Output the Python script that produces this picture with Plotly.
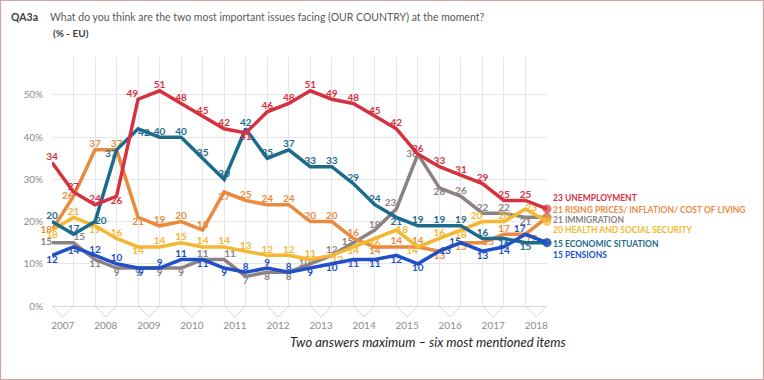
import plotly.graph_objects as go

years = ["2007", "2008", "2009", "2010", "2011", "2012", "2013", "2014", "2015", "2016", "2017", "2018"]

unemployment = [34, 27, 24, 26, 49, 51, 48, 45, 42, 41, 46, 48, 51, 49, 48, 45, 42, 36, 33, 31, 29, 25, 25, 23]
rising_prices = [18, 26, 37, 37, 21, 19, 20, 18, 27, 25, 24, 24, 20, 20, 16, 14, 14, 14, 13, 15, 15, 17, 17, 21]
immigration = [15, 15, 11, 9, 9, 9, 9, 11, 11, 7, 8, 8, 10, 12, 15, 18, 23, 36, 28, 26, 22, 22, 21, 21]
health = [18, 21, 19, 16, 14, 14, 15, 14, 14, 13, 12, 12, 11, 12, 14, 16, 18, 14, 16, 18, 20, 20, 23, 20]
economic = [20, 17, 20, 37, 42, 40, 40, 35, 30, 42, 35, 37, 33, 33, 29, 24, 21, 19, 19, 19, 16, 16, 15, 15]
pensions = [12, 14, 12, 10, 9, 9, 11, 11, 9, 8, 9, 8, 9, 10, 11, 11, 12, 10, 13, 15, 13, 14, 17, 15]

names = {
    "unemployment": "UNEMPLOYMENT",
    "rising_prices": "RISING PRICES/ INFLATION/ COST OF LIVING",
    "immigration": "IMMIGRATION",
    "health": "HEALTH AND SOCIAL SECURITY",
    "economic": "ECONOMIC SITUATION",
    "pensions": "PENSIONS",
}

# ---- styles ----
T, B, L, R = "top center", "bottom center", "middle left", "middle right"
TL, TR, BL, BR = "top left", "top right", "bottom left", "bottom right"

styles = {
    "immigration": dict(color="#8c8284", shift=-3,
        pos=[L, TR, B, B, B, B, B, T, TR, B, B, B, L, T, L, T, TL, L, B, T, T, T, B, T]),
    "rising_prices": dict(color="#ea8a3f", shift=7,
        pos=[L, L, T, T, B, T, T, T, B, T, T, T, T, T, T, B, T, T, B, B, R, T, BR, T]),
    "health": dict(color="#f4b731", shift=-8,
        pos=[B, T, B, T, B, T, T, T, T, T, T, T, T, BR, B, B, R, BL, T, B, TL, T, R, T]),
    "economic": dict(color="#1c6a8c", shift=-1,
        pos=[T, T, R, BL, BR, T, T, T, T, T, T, T, T, T, T, T, B, T, T, T, T, B, B, T]),
    "pensions": dict(color="#2150c6", shift=-12,
        pos=[B, B, T, T, BR, T, T, B, B, T, T, T, B, B, B, B, B, B, R, L, B, B, TL, T]),
    "unemployment": dict(color="#d7303f", shift=11,
        pos=[T, T, T, B, TL, T, T, T, T, B, T, T, T, T, T, T, T, T, T, T, T, T, T, T]),
}

series = {
    "immigration": immigration,
    "rising_prices": rising_prices,
    "health": health,
    "economic": economic,
    "pensions": pensions,
    "unemployment": unemployment,
}

W, H = 764, 380
ml, mr, mt, mb = 52, 217, 57, 74
pw, ph = W - ml - mr, H - mt - mb


def px(x):
    return (x - ml) / pw


def py(y):
    return 1 - (y - mt) / ph


FONT = "Lato"
fig = go.Figure()

for key, vals in series.items():
    st = styles[key]
    n = len(vals)
    xs = list(range(n))
    fig.add_trace(go.Scatter(
        x=xs, y=vals,
        mode="lines+markers+text",
        line=dict(color=st["color"], width=3.5),
        marker=dict(size=[0] * (n - 1) + [9], color=st["color"], line=dict(width=0)),
        text=[str(v) for v in vals[:-1]] + [""],
        textposition=st["pos"],
        textfont=dict(family=FONT, size=10, color=st["color"], weight="bold"),
        cliponaxis=False,
        hoverinfo="skip",
        showlegend=False,
    ))
    fig.add_annotation(
        x=n - 1, y=vals[-1], xref="x", yref="y",
        text=f"{vals[-1]} {names[key]}",
        showarrow=False, xanchor="left", yanchor="middle",
        xshift=4, yshift=st["shift"],
        font=dict(family=FONT, size=8.5, color=st["color"], weight="bold"),
    )

shapes = []
for i in range(len(years)):
    x0, x1 = 2 * i, 2 * i + 1
    shapes.append(dict(
        type="path", xref="x", yref="paper",
        path=f"M {x0},0 L {x0 + 0.5},{-11 / ph} L {x1},0",
        line=dict(color="#d4d4d4", width=1),
    ))
# outer border
shapes.append(dict(
    type="rect", xref="paper", yref="paper",
    x0=px(0.5), x1=px(W - 0.5), y0=py(H - 0.5), y1=py(0.5),
    line=dict(color="#d4a3a3", width=1.2),
))

fig.add_annotation(x=px(9), y=py(17), xref="paper", yref="paper", xanchor="left", yanchor="middle",
                   text="<b>QA3a</b>", showarrow=False, font=dict(family=FONT, size=10.5, color="#404040"))
fig.add_annotation(x=px(48), y=py(17), xref="paper", yref="paper", xanchor="left", yanchor="middle",
                   text="What do you think are the two most important issues facing (OUR COUNTRY) at the moment?",
                   showarrow=False, font=dict(family=FONT, size=10.5, color="#595959"))
fig.add_annotation(x=px(51), y=py(33), xref="paper", yref="paper", xanchor="left", yanchor="middle",
                   text="<b>(% - EU)</b>", showarrow=False, font=dict(family=FONT, size=10, color="#404040"))
fig.add_annotation(x=px(428), y=py(342), xref="paper", yref="paper", xanchor="center", yanchor="middle",
                   text="<i>Two answers maximum – six most mentioned items</i>", showarrow=False,
                   font=dict(family=FONT, size=13, color="#262626"))

yticks = [0, 10, 20, 30, 40, 50]

fig.update_layout(
    width=W, height=H,
    margin=dict(l=ml, r=mr, t=mt, b=mb, pad=0),
    paper_bgcolor="white", plot_bgcolor="white",
    shapes=shapes,
    xaxis=dict(
        range=[0, len(unemployment) - 1],
        tickvals=[2 * i + 0.5 for i in range(len(years))],
        ticktext=years,
        showgrid=False, zeroline=False, showline=False, ticks="",
        tickfont=dict(family=FONT, size=10, color="#8c8c8c"),
        ticklabelstandoff=12,
        minor=dict(dtick=1, tick0=0, showgrid=True, gridcolor="#e6e6e6", gridwidth=1),
        fixedrange=True,
    ),
    yaxis=dict(
        range=[0, 59],
        tickvals=yticks,
        ticktext=[f"{v}%" for v in yticks],
        showgrid=True, gridcolor="#e6e6e6", gridwidth=1,
        zeroline=True, zerolinecolor="#d9d9d9", zerolinewidth=1,
        showline=False, ticks="",
        tickfont=dict(family=FONT, size=10, color="#8c8c8c"),
        ticklabelstandoff=8,
        fixedrange=True,
    ),
    font=dict(family=FONT),
)

fig.write_html(
    "out.html",
    config={"displayModeBar": False},
    post_script="document.body.style.margin='0';document.body.style.padding='0';document.body.style.overflow='hidden';",
)
